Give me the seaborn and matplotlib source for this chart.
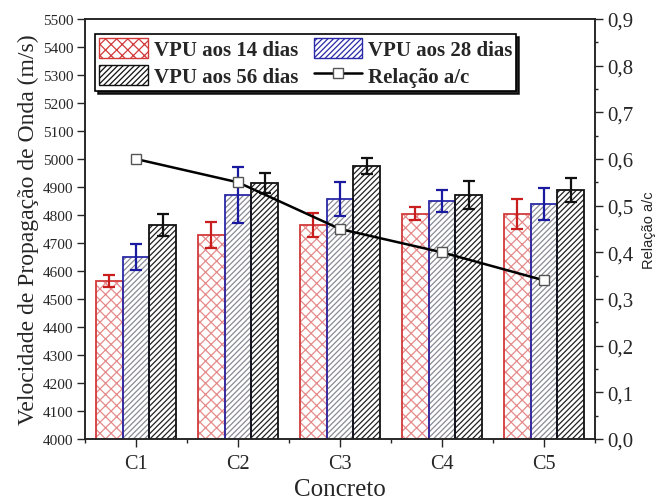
import matplotlib
matplotlib.use('Agg')
import matplotlib.pyplot as plt
import seaborn as sns
import pandas as pd
import numpy as np
from matplotlib.ticker import MultipleLocator, FuncFormatter
from matplotlib.patches import Rectangle, Patch
from matplotlib.lines import Line2D
from matplotlib.container import BarContainer

concretos = ['C1', 'C2', 'C3', 'C4', 'C5']
series = ['VPU aos 14 dias', 'VPU aos 28 dias', 'VPU aos 56 dias']
vpu_14 = [4564, 4728, 4764, 4804, 4804]
vpu_28 = [4650, 4871, 4857, 4850, 4839]
vpu_56 = [4764, 4914, 4975, 4871, 4889]
err_14 = [20, 46, 43, 23, 54]
err_28 = [46, 100, 62, 41, 57]
err_56 = [40, 36, 27, 50, 43]
relacao_ac = [0.60, 0.55, 0.45, 0.40, 0.34]
rel_label = 'Relação a/c'

sns.set_style('ticks')
plt.rcParams['font.family'] = ['Liberation Serif', 'DejaVu Serif']
plt.rcParams['hatch.linewidth'] = 0.9

values = [vpu_14, vpu_28, vpu_56]
errors = [err_14, err_28, err_56]
df = pd.DataFrame({
    'Concreto': concretos * 3,
    'VPU': vpu_14 + vpu_28 + vpu_56,
    'Serie': [s for s in series for _ in concretos],
})

edge_cols = ['#d23a3a', '#2a2aa8', '#111111']
hatch_cols = ['#e58a8a', '#8a8a96', '#222222']
hatches = ['xxx', '//////', '//////']
err_cols = ['#c81e1e', '#1a1aa0', '#111111']

fig = plt.figure(figsize=(6.58, 5.02), dpi=100)
ax = fig.add_axes([85 / 658, 62 / 502, 510 / 658, 420 / 502])

sns.barplot(data=df, x='Concreto', y='VPU', hue='Serie', hue_order=series,
            palette=['white'] * 3, saturation=1, width=0.78, errorbar=None,
            legend=False, ax=ax)

bar_conts = [c for c in ax.containers if isinstance(c, BarContainer)]
for i, cont in enumerate(bar_conts):
    xs = []
    for p in cont.patches:
        p.set_hatch(hatches[i])
        p.set_edgecolor(hatch_cols[i])
        p.set_linewidth(0)
        p.set_facecolor('white')
        ax.add_patch(Rectangle((p.get_x(), p.get_y()), p.get_width(), p.get_height(),
                               fill=False, edgecolor=edge_cols[i], linewidth=1.3, zorder=p.get_zorder() + 0.1))
        xs.append(p.get_x() + p.get_width() / 2)
    ax.errorbar(xs, values[i], yerr=errors[i], fmt='none', ecolor=err_cols[i],
                elinewidth=1.6, capsize=4, capthick=1.6, zorder=5)

ax.set_ylim(4000, 5500)
ax.set_xlim(-0.5, len(concretos) - 0.5)
ax.yaxis.set_major_locator(MultipleLocator(100))
ax.xaxis.set_minor_locator(MultipleLocator(1, offset=0.5))
ax.set_ylabel('Velocidade de Propagação de Onda (m/s)', fontsize=17, labelpad=3)
ax.set_xlabel('Concreto', fontsize=18, labelpad=4)
ax.tick_params(axis='y', which='major', labelsize=11, length=5.5, width=1, pad=3, direction='out')
ax.tick_params(axis='x', which='major', labelsize=14.5, length=5.5, width=1, pad=5, direction='out')
ax.tick_params(axis='x', which='minor', length=3, width=1, direction='out')
for s in ax.spines.values():
    s.set_visible(True)
    s.set_linewidth(1.1)
    s.set_color('#222222')

ax2 = ax.twinx()
sns.lineplot(x=np.arange(len(concretos)), y=relacao_ac, ax=ax2, color='black', linewidth=1.8,
             marker='s', markersize=6.5, markerfacecolor='white', markeredgecolor='#555555',
             markeredgewidth=1, zorder=6)
ax2.set_ylim(0, 0.9)
ax2.yaxis.set_major_locator(MultipleLocator(0.1))
ax2.yaxis.set_minor_locator(MultipleLocator(0.05))
ax2.yaxis.set_major_formatter(FuncFormatter(lambda v, p: f'{v:.1f}'.replace('.', ',')))
ax2.tick_params(axis='y', which='major', labelsize=15, length=6, width=1, pad=3, direction='out')
ax2.tick_params(axis='y', which='minor', length=2.5, width=1, direction='out')
ax2.set_ylabel(rel_label, fontfamily='Liberation Sans', fontsize=10.5, labelpad=6)
for s in ax2.spines.values():
    s.set_linewidth(1.1)
    s.set_color('#222222')

handles = [
    Patch(facecolor='white', edgecolor=edge_cols[0], hatch=hatches[0], label=series[0]),
    Patch(facecolor='white', edgecolor=edge_cols[2], hatch=hatches[2], label=series[2]),
    Patch(facecolor='white', edgecolor=edge_cols[1], hatch=hatches[1], label=series[1]),
    Line2D([0], [0], color='black', lw=1.8, marker='s', markersize=6.5, markerfacecolor='white',
           markeredgecolor='#555555', label=rel_label),
]
leg = ax2.legend(handles=handles, ncol=2, loc='upper left', bbox_to_anchor=(0.02, 0.964),
                 borderaxespad=0, fancybox=False, shadow={'color': 'black', 'alpha': 0.85},
                 framealpha=1, edgecolor='black',
                 prop={'family': ['Liberation Serif'], 'weight': 'bold', 'size': 15},
                 handlelength=2.35, handleheight=1.1, handletextpad=0.25, labelspacing=0.2,
                 columnspacing=0.75, borderpad=0.2)
leg.get_frame().set_linewidth(1.2)

fig.savefig('out.png', dpi=100)
